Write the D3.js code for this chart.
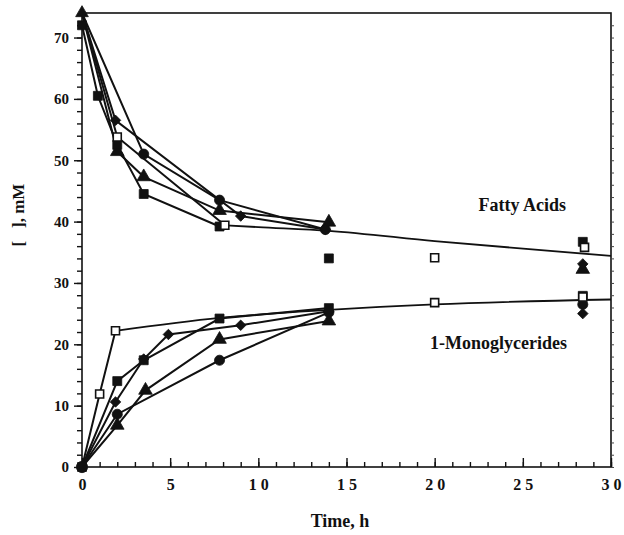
<!DOCTYPE html>
<html>
<head>
<meta charset="utf-8">
<script src="https://cdn.jsdelivr.net/npm/d3@7"></script>
<style>
  html, body { margin: 0; padding: 0; background: #fff; }
  svg { display: block; }
  text { font-family: "Liberation Serif", "Times New Roman", serif; font-weight: bold; fill: #111; }
</style>
</head>
<body>
<svg id="chart" width="624" height="535"></svg>
<script>
// ---------- data (time in h, concentration in mM) ----------
const xTicks = [0, 5, 10, 15, 20, 25, 30];
const yTicks = [0, 10, 20, 30, 40, 50, 60, 70];
const xTickLabels = ["0", "5", "1 0", "1 5", "2 0", "2 5", "3 0"];

// Fatty acids (upper group)
const faFilledSquare = [[0, 72], [0.9, 60.5], [2, 52.5], [3.5, 44.5], [7.8, 39.2]];
const faFilledSquareLoose = [[14, 34], [28.4, 36.7]];
const faOpenSquare = [[0, 74], [2, 53.8], [8.1, 39.4]];
const faOpenSquareLoose = [[20, 34.1], [28.5, 35.8]];
const faCircle = [[0, 74], [3.5, 51], [7.8, 43.5], [13.8, 38.7]];
const faTriangle = [[0, 74], [2, 51.4], [3.5, 47.3], [7.8, 41.8], [14, 39.9]];
const faTriangleLoose = [[28.4, 32.2]];
const faDiamond = [[0, 74], [1.9, 56.5], [9, 40.9], [13.8, 38.7]];
const faDiamondLoose = [[28.4, 33.1]];
const faFit = [[8.1, 39.4], [10, 39.1], [14, 38.5], [20, 36.8], [30, 34.4]];

// 1-Monoglycerides (lower group)
const mgOpenSquare = [[0, 0], [1, 11.9], [1.9, 22.2]];
const mgOpenSquareLoose = [[20, 26.8], [28.4, 27.7]];
const mgFilledSquare = [[0, 0], [2, 14], [3.5, 17.4], [7.8, 24.2], [14, 25.9]];
const mgFilledSquareLoose = [[28.4, 27.9]];
const mgCircle = [[0, 0], [2, 8.6], [7.8, 17.4], [14, 25.2]];
const mgCircleLoose = [[28.4, 26.5]];
const mgTriangle = [[0, 0], [2, 6.8], [3.6, 12.5], [7.8, 20.8], [14, 23.8]];
const mgDiamond = [[0, 0], [1.9, 10.6], [3.5, 17.6], [4.9, 21.6], [9, 23.1], [14, 25.4]];
const mgDiamondLoose = [[28.4, 25]];
const mgFit = [[1.9, 22.2], [7.8, 24.3], [14, 25.6], [20, 26.5], [30, 27.3]];

// ---------- layout ----------
const svg = d3.select("#chart");
const x = d3.scaleLinear().domain([0, 30]).range([82, 611]);
const y = d3.scaleLinear().domain([0, 74]).range([467, 13]);

// frame
svg.append("rect")
  .attr("x", x(0)).attr("y", y(74))
  .attr("width", x(30) - x(0)).attr("height", y(0) - y(74))
  .attr("fill", "none").attr("stroke", "#111").attr("stroke-width", 1.6);

// x axis: minor ticks (inward) and major ticks with labels
const xMinor = d3.axisBottom(x).tickValues(d3.range(0, 31, 1)).tickSize(-5).tickFormat("");
svg.append("g").attr("transform", `translate(0,${y(0)})`).call(xMinor)
  .call(g => g.select(".domain").remove())
  .selectAll("line").attr("stroke", "#111").attr("stroke-width", 1.4);
const xMajor = d3.axisBottom(x).tickValues(xTicks).tickSize(-9).tickPadding(12)
  .tickFormat((d, i) => xTickLabels[i]);
const gx = svg.append("g").attr("transform", `translate(0,${y(0)})`).call(xMajor);
gx.select(".domain").remove();
gx.selectAll("line").attr("stroke", "#111").attr("stroke-width", 1.4);
gx.selectAll("text").style("font-size", "16px").attr("fill", "#111")
  .style("font-family", "'Liberation Serif', serif").style("font-weight", "bold");

// y axis: outward ticks
const yMinor = d3.axisLeft(y).tickValues(d3.range(0, 74, 2)).tickSize(5).tickFormat("");
svg.append("g").attr("transform", `translate(${x(0)},0)`).call(yMinor)
  .call(g => g.select(".domain").remove())
  .selectAll("line").attr("stroke", "#111").attr("stroke-width", 1.4);
const yMajor = d3.axisLeft(y).tickValues(yTicks).tickSize(8).tickPadding(5);
const gy = svg.append("g").attr("transform", `translate(${x(0)},0)`).call(yMajor);
gy.select(".domain").remove();
gy.selectAll("line").attr("stroke", "#111").attr("stroke-width", 1.4);
gy.selectAll("text").style("font-size", "15px").attr("fill", "#111")
  .style("font-family", "'Liberation Serif', serif").style("font-weight", "bold");

// right edge small ticks
const yRight = d3.axisRight(y).tickValues(d3.range(0, 74, 2)).tickSize(3).tickFormat("");
svg.append("g").attr("transform", `translate(${x(30)},0)`).call(yRight)
  .call(g => g.select(".domain").remove())
  .selectAll("line").attr("stroke", "#444").attr("stroke-width", 1);

// axis titles
svg.append("text").attr("x", 340).attr("y", 527).attr("text-anchor", "middle")
  .style("font-size", "18px").text("Time, h");
svg.append("text").attr("transform", "translate(24,215) rotate(-90)")
  .attr("text-anchor", "middle").style("font-size", "17px")
  .style("white-space", "pre").attr("xml:space", "preserve").text("[   ], mM");

// annotations
svg.append("text").attr("x", 566).attr("y", 211).attr("text-anchor", "end")
  .style("font-size", "18px").text("Fatty Acids");
svg.append("text").attr("x", 567).attr("y", 349).attr("text-anchor", "end")
  .style("font-size", "18px").text("1-Monoglycerides");

// lines
const line = d3.line().x(d => x(d[0])).y(d => y(d[1]));
const fitLine = d3.line().x(d => x(d[0])).y(d => y(d[1])).curve(d3.curveMonotoneX);
const gl = svg.append("g").attr("fill", "none").attr("stroke", "#111");
[faFilledSquare, faOpenSquare, faCircle, faTriangle, faDiamond,
 mgOpenSquare, mgFilledSquare, mgCircle, mgTriangle, mgDiamond].forEach(s => {
  gl.append("path").attr("d", line(s)).attr("stroke-width", 2);
});
[faFit, mgFit].forEach(s => {
  gl.append("path").attr("d", fitLine(s)).attr("stroke-width", 1.8);
});

// markers
function drawMarkers(data, type, open, size, rotate) {
  const sym = d3.symbol().type(type).size(size);
  svg.append("g").selectAll("path").data(data).join("path")
    .attr("transform", d => `translate(${x(d[0])},${y(d[1])})` + (rotate ? " rotate(45)" : ""))
    .attr("d", sym)
    .attr("fill", open ? "#fff" : "#111")
    .attr("stroke", "#111").attr("stroke-width", open ? 1.6 : 0.8);
}
const sq = d3.symbolSquare, ci = d3.symbolCircle, tr = d3.symbolTriangle;
drawMarkers(faCircle.slice(1), ci, false, 80);
drawMarkers(faTriangle.slice(1).concat(faTriangleLoose), tr, false, 80);
drawMarkers(faDiamond.slice(1).concat(faDiamondLoose), sq, false, 55, true);
drawMarkers(faFilledSquare.concat(faFilledSquareLoose), sq, false, 80);
drawMarkers(faOpenSquare.slice(1).concat(faOpenSquareLoose), sq, true, 64);
drawMarkers([faCircle[0]], tr, false, 70);

drawMarkers(mgCircle.slice(1).concat(mgCircleLoose), ci, false, 80);
drawMarkers(mgTriangle.slice(1), tr, false, 80);
drawMarkers(mgDiamond.slice(1).concat(mgDiamondLoose), sq, false, 55, true);
drawMarkers(mgFilledSquare.concat(mgFilledSquareLoose), sq, false, 80);
drawMarkers(mgOpenSquare.slice(1).concat(mgOpenSquareLoose), sq, true, 64);
drawMarkers([mgCircle[0]], ci, false, 100);
</script>
</body>
</html>
